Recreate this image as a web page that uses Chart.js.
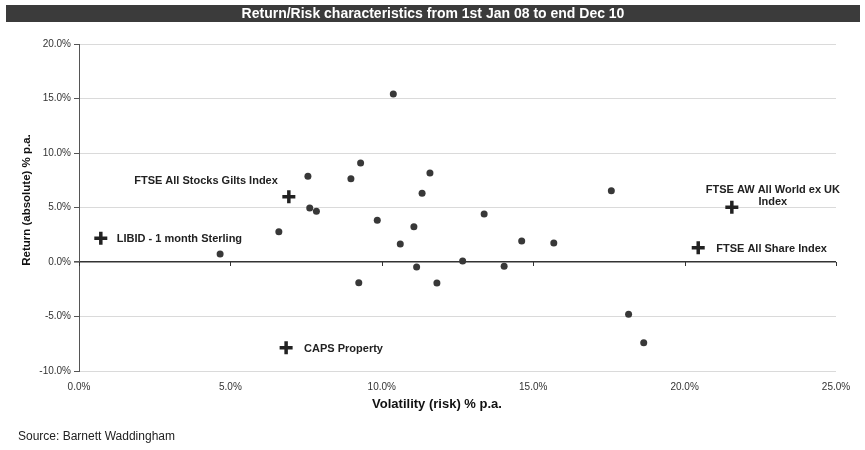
<!DOCTYPE html>
<html>
<head>
<meta charset="utf-8">
<script src="https://cdn.jsdelivr.net/npm/chart.js@4"></script>
<style>
  body { margin: 0; background: #fff; }
  #wrap { width: 865px; height: 450px; position: relative; }
</style>
</head>
<body>
<div id="wrap"><canvas id="chart"></canvas></div>
<script>
// volatility (x) and return (y), % p.a.
const fundRisk = [10.38, 9.30, 7.56, 8.98, 11.59, 11.33, 7.62, 7.84, 13.38, 9.85, 11.06, 6.60,
                  10.61, 4.66, 12.67, 11.15, 9.24, 11.82, 17.58, 14.62, 15.68, 14.04, 18.15, 18.65];
const fundReturn = [15.41, 9.08, 7.86, 7.64, 8.17, 6.30, 4.95, 4.65, 4.40, 3.83, 3.24, 2.78,
                    1.65, 0.73, 0.09, -0.46, -1.91, -1.93, 6.54, 1.93, 1.74, -0.39, -4.80, -7.40];

const indexNames = ["FTSE All Stocks Gilts Index", "LIBID - 1 month Sterling", "CAPS Property",
                    "FTSE AW All World ex UK|Index", "FTSE All Share Index"];
const indexRisk = [6.93, 0.72, 6.84, 21.56, 20.45];
const indexReturn = [5.99, 2.17, -7.86, 5.02, 1.31];

const xTicks = [0, 5, 10, 15, 20, 25];
const yTicks = [-10, -5, 0, 5, 10, 15, 20];

const chartTitle = "Return/Risk characteristics from 1st Jan 08 to end Dec 10";
const xTitle = "Volatility (risk) % p.a.";
const yTitle = "Return (absolute) % p.a.";
const sourceText = "Source: Barnett Waddingham";

// label placement relative to each cross: [dx, dy, align]
const labelPlace = [[-11, -16, "right"], [16, 1, "left"], [18, 1, "left"], [41, -17, "center"], [18, 1, "left"]];

const narrow = "'Liberation Sans Narrow', 'Liberation Sans', Arial, sans-serif";
const sans = "'Liberation Sans', Arial, sans-serif";

const extras = {
    id: "extras",
    afterDraw(chart) {
        const ctx = chart.ctx;
        const xs = chart.scales.x, ys = chart.scales.y;
        ctx.save();

        // title bar
        ctx.fillStyle = "#3b3b3b";
        ctx.fillRect(6, 5, 854, 17);
        ctx.fillStyle = "#fff";
        ctx.font = "bold 14px " + narrow;
        ctx.textAlign = "center";
        ctx.textBaseline = "middle";
        ctx.fillText(chartTitle, 433, 14);

        // tick marks on the zero axis
        const y0 = ys.getPixelForValue(0);
        ctx.strokeStyle = "#333";
        ctx.lineWidth = 1;
        xTicks.forEach(v => {
            const px = Math.round(xs.getPixelForValue(v)) + 0.5;
            ctx.beginPath();
            ctx.moveTo(px, y0);
            ctx.lineTo(px, y0 + 4);
            ctx.stroke();
        });

        // axis titles
        ctx.fillStyle = "#111";
        ctx.font = "bold 13px " + sans;
        ctx.fillText(xTitle, 437, 404);
        ctx.save();
        ctx.translate(27, 200);
        ctx.rotate(-Math.PI / 2);
        ctx.font = "bold 11.5px " + sans;
        ctx.fillText(yTitle, 0, 0);
        ctx.restore();

        // index labels next to crosses
        const meta = chart.getDatasetMeta(1);
        ctx.font = "bold 11px " + sans;
        ctx.fillStyle = "#222";
        indexNames.forEach((name, i) => {
            const pt = meta.data[i];
            const [dx, dy, align] = labelPlace[i];
            ctx.textAlign = align;
            name.split("|").forEach((line, j) => {
                ctx.fillText(line, pt.x + dx, pt.y + dy + j * 12);
            });
        });

        // source
        ctx.textAlign = "left";
        ctx.font = "12px " + sans;
        ctx.fillStyle = "#222";
        ctx.fillText(sourceText, 18, 437);
        ctx.restore();
    }
};

new Chart(document.getElementById("chart"), {
    type: "scatter",
    data: {
        datasets: [
            {
                data: fundRisk.map((x, i) => ({ x: x, y: fundReturn[i] })),
                pointStyle: "circle",
                pointRadius: 3.5,
                backgroundColor: "#383838",
                borderColor: "#383838",
                borderWidth: 0
            },
            {
                data: indexRisk.map((x, i) => ({ x: x, y: indexReturn[i] })),
                pointStyle: "cross",
                pointRadius: 6.5,
                borderColor: "#222",
                borderWidth: 3.5
            }
        ]
    },
    options: {
        responsive: true,
        maintainAspectRatio: false,
        animation: false,
        layout: { padding: { top: 44, right: 29, left: 0, bottom: 0 } },
        plugins: {
            legend: { display: false },
            tooltip: { enabled: false }
        },
        scales: {
            x: {
                type: "linear",
                min: 0,
                max: 25,
                afterFit: s => { s.height = 79; },
                afterBuildTicks: s => { s.ticks = xTicks.map(v => ({ value: v })); },
                grid: { display: false, drawTicks: false },
                border: { display: false },
                ticks: {
                    padding: 10,
                    color: "#333",
                    font: { family: narrow, size: 10 },
                    callback: v => v.toFixed(1) + "%"
                }
            },
            y: {
                min: -10,
                max: 20,
                afterFit: s => { s.width = 79; },
                afterBuildTicks: s => { s.ticks = yTicks.map(v => ({ value: v })); },
                grid: {
                    color: c => c.tick && c.tick.value === 0 ? "#333" : "#dadada",
                    lineWidth: c => c.tick && c.tick.value === 0 ? 1.6 : 1,
                    tickColor: "#555",
                    tickLength: 5
                },
                border: { display: true, color: "#555", width: 1 },
                ticks: {
                    padding: 3,
                    color: "#333",
                    font: { family: narrow, size: 10 },
                    callback: v => v.toFixed(1) + "%"
                }
            }
        }
    },
    plugins: [extras]
});
</script>
</body>
</html>
